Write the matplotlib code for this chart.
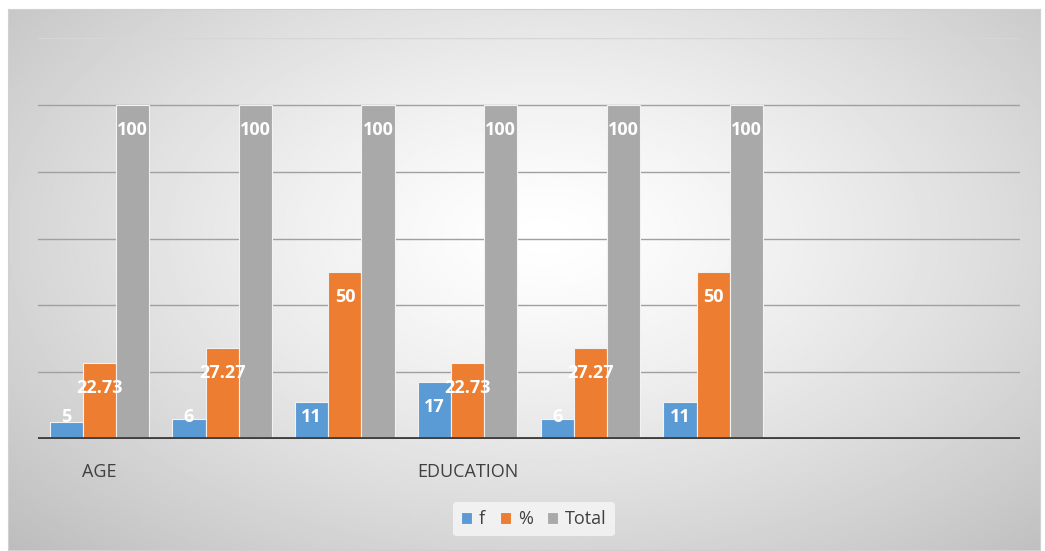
import numpy as np
import matplotlib
matplotlib.use("Agg")
import matplotlib.pyplot as plt

categories = ["AGE", "", "", "EDUCATION", "", "", "", ""]
f_vals = [5, 6, 11, 17, 6, 11]
pct_vals = [22.73, 27.27, 50, 22.73, 27.27, 50]
total_vals = [100, 100, 100, 100, 100, 100]
series_names = ["f", "%", "Total"]
colors = ["#5B9BD5", "#ED7D31", "#A9A9A9"]

plt.rcParams["font.family"] = ["Open Sans", "DejaVu Sans"]

fig = plt.figure(figsize=(10.45, 5.51), dpi=100)

# chart area with a radial grey-to-white gradient
bg = fig.add_axes([8 / 1045, 1 - 550 / 551, 1032 / 1045, 541 / 551])
yy, xx = np.mgrid[0:1:300j, 0:1:600j]
r = np.sqrt(((xx - 0.52) / 0.75) ** 2 + ((yy - 0.42) / 0.85) ** 2)
shade = 1 - 0.27 * np.clip(r, 0, 1) ** 1.3
bg.imshow(shade, cmap="gray", vmin=0, vmax=1, aspect="auto", extent=[0, 1, 0, 1])
bg.set_xticks([])
bg.set_yticks([])
for s in bg.spines.values():
    s.set_color("#d0d0d0")

ax = fig.add_axes([38 / 1045, 1 - 439 / 551, 982 / 1045, 401 / 551])
ax.patch.set_alpha(0)

x = np.arange(len(categories))
w = 0.27
series = [f_vals, pct_vals, total_vals]
for i, (vals, name, col) in enumerate(zip(series, series_names, colors)):
    pos = x[:len(vals)] + (i - 1) * w
    ax.bar(pos, vals, w, color=col, edgecolor="#f2f2f2", linewidth=0.8,
           label=name, zorder=3)
    for px, v in zip(pos, vals):
        ax.text(px, max(v - 7.5, 6.5), f"{v:g}", ha="center", va="center",
                color="white", fontsize=13, fontweight="bold", zorder=4)

ax.set_xlim(-0.5, len(categories) - 0.5)
ax.set_ylim(0, 120)
for g in [20, 40, 60, 80, 100]:
    ax.axhline(g, color="#a0a0a0", linewidth=1, zorder=1)
ax.axhline(120, color="#d6d6d6", linewidth=1, zorder=1)
ax.axhline(0, color="#404040", linewidth=3.5, zorder=5)

ax.set_xticks(x)
ax.set_xticklabels(categories, fontsize=13, color="#404040")
ax.tick_params(axis="x", length=0, pad=17)
ax.set_yticks([])
for s in ax.spines.values():
    s.set_visible(False)

leg = ax.legend(loc="upper center", bbox_to_anchor=(0.505, -0.135), ncol=3,
                frameon=True, fontsize=13, handlelength=0.6, handleheight=0.6,
                handletextpad=0.4, columnspacing=0.8, borderpad=0.45)
leg.get_frame().set_facecolor("#f7f7f7")
leg.get_frame().set_edgecolor("none")
leg.get_frame().set_alpha(0.8)
for t in leg.get_texts():
    t.set_color("#404040")

fig.savefig("out.png", dpi=100)
